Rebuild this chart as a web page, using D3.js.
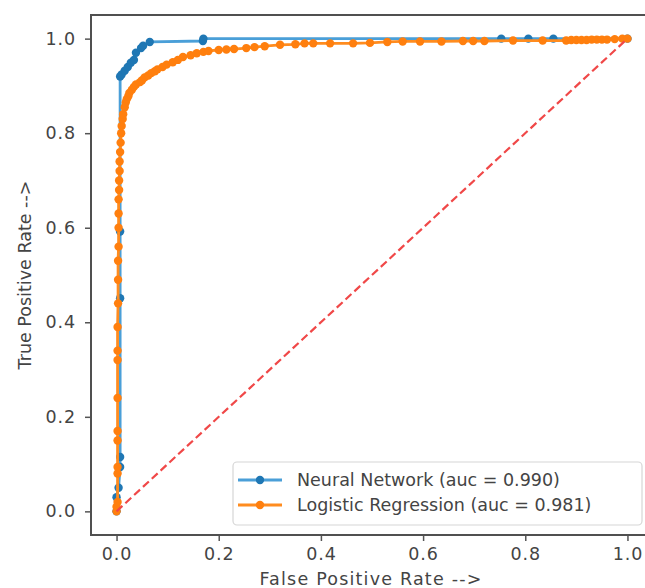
<!DOCTYPE html>
<html>
<head>
<meta charset="utf-8">
<script src="https://cdn.jsdelivr.net/npm/d3@7"></script>
<style>
  body { margin: 0; background: #fff; overflow: hidden; }
  svg { display: block; }
</style>
</head>
<body>
<svg id="chart" width="645" height="588"></svg>
<script>
// ROC points
const nnFpr = [0, 0, 0.004, 0.007, 0.007, 0.007, 0.007, 0.007, 0.01, 0.016, 0.022, 0.028, 0.034, 0.038, 0.048, 0.052, 0.065, 0.169, 0.17, 0.753, 0.806, 0.855, 1.0];
const nnTpr = [0, 0.03, 0.05, 0.094, 0.115, 0.451, 0.592, 0.92, 0.924, 0.932, 0.94, 0.949, 0.955, 0.97, 0.98, 0.985, 0.993, 0.995, 1.0, 1.0, 1.0, 1.0, 1.0];

const lrFpr = [0, 0, 0.002, 0.002, 0.002, 0.002, 0.002, 0.002, 0.002, 0.002, 0.002, 0.003, 0.003, 0.003, 0.004, 0.004, 0.004, 0.004, 0.005, 0.005, 0.006, 0.006, 0.007, 0.008, 0.009, 0.01, 0.012, 0.013, 0.016, 0.018, 0.02, 0.023, 0.025, 0.03, 0.034, 0.038, 0.046, 0.05, 0.055, 0.062, 0.068, 0.075, 0.08, 0.09, 0.098, 0.11, 0.12, 0.13, 0.145, 0.157, 0.17, 0.18, 0.2, 0.215, 0.23, 0.254, 0.27, 0.29, 0.32, 0.35, 0.368, 0.385, 0.418, 0.463, 0.496, 0.53, 0.56, 0.594, 0.636, 0.678, 0.698, 0.72, 0.776, 0.834, 0.88, 0.89, 0.9, 0.91, 0.92, 0.93, 0.94, 0.95, 0.96, 0.975, 0.99, 1.0];
const lrTpr = [0, 0.01, 0.02, 0.08, 0.094, 0.15, 0.17, 0.24, 0.32, 0.34, 0.39, 0.44, 0.49, 0.53, 0.56, 0.6, 0.63, 0.66, 0.68, 0.7, 0.72, 0.74, 0.76, 0.78, 0.8, 0.815, 0.83, 0.84, 0.855, 0.865, 0.872, 0.878, 0.885, 0.892, 0.898, 0.903, 0.908, 0.912, 0.918, 0.922, 0.927, 0.931, 0.935, 0.94, 0.945, 0.95, 0.955, 0.961, 0.965, 0.969, 0.972, 0.974, 0.976, 0.977, 0.978, 0.98, 0.982, 0.984, 0.987, 0.988, 0.99, 0.99, 0.99, 0.99, 0.991, 0.993, 0.994, 0.994, 0.994, 0.995, 0.995, 0.995, 0.996, 0.996, 0.996, 0.997, 0.997, 0.997, 0.997, 0.998, 0.998, 0.998, 0.998, 0.999, 1.0, 1.0];

const ticks = [0, 0.2, 0.4, 0.6, 0.8, 1.0];
const series = [
  { name: "Neural Network (auc = 0.990)", fpr: nnFpr, tpr: nnTpr, color: "#1f77b4", lineColor: "#4a9fd8" },
  { name: "Logistic Regression (auc = 0.981)", fpr: lrFpr, tpr: lrTpr, color: "#ff7f0e", lineColor: "#ff8c1f" }
];

const font = "DejaVu Sans, sans-serif";
const textColor = "#444";
const fontSize = "17.5px";
const svg = d3.select("#chart");

const margin = { top: 15, bottom: 535, left: 91, right: 653 };
const x = d3.scaleLinear().domain([-0.05, 1.05]).range([margin.left, margin.right]);
const y = d3.scaleLinear().domain([-0.05, 1.05]).range([margin.bottom, margin.top]);

// x axis
const gx = svg.append("g")
  .attr("transform", `translate(0,${margin.bottom})`)
  .call(d3.axisBottom(x).tickValues(ticks).tickFormat(d3.format(".1f")).tickSize(6).tickPadding(7));
gx.select(".domain").remove();
gx.selectAll("line").attr("stroke", "#555").attr("stroke-width", 1.5);
gx.selectAll("text").attr("font-size", fontSize).attr("letter-spacing", "0.9px")
  .attr("font-family", font).attr("fill", textColor);

// y axis
const gy = svg.append("g")
  .attr("transform", `translate(${margin.left},0)`)
  .call(d3.axisLeft(y).tickValues(ticks).tickFormat(d3.format(".1f")).tickSize(6).tickPadding(9));
gy.select(".domain").remove();
gy.selectAll("line").attr("stroke", "#555").attr("stroke-width", 1.5);
gy.selectAll("text").attr("font-size", fontSize).attr("letter-spacing", "0.9px")
  .attr("font-family", font).attr("fill", textColor);

// spines
svg.append("rect")
  .attr("x", margin.left)
  .attr("y", margin.top)
  .attr("width", margin.right - margin.left)
  .attr("height", margin.bottom - margin.top)
  .attr("fill", "none")
  .attr("stroke", "#505050")
  .attr("stroke-width", 2);

const line = d3.line().x(d => x(d[0])).y(d => y(d[1]));

series.forEach(s => {
  const pts = s.fpr.map((f, i) => [f, s.tpr[i]]);
  const g = svg.append("g");
  g.append("path")
    .datum(pts)
    .attr("fill", "none")
    .attr("stroke", s.lineColor)
    .attr("stroke-width", 2.8)
    .attr("d", line);
  g.selectAll("circle")
    .data(pts)
    .join("circle")
    .attr("cx", d => x(d[0]))
    .attr("cy", d => y(d[1]))
    .attr("r", 4.2)
    .attr("fill", s.color);
});

// chance line
svg.append("path")
  .datum([[0, 0], [1, 1]])
  .attr("fill", "none")
  .attr("stroke", "#f04848")
  .attr("stroke-width", 2.2)
  .attr("stroke-dasharray", "8,4")
  .attr("d", line);

// axis labels
svg.append("text")
  .attr("x", 371)
  .attr("y", 585)
  .attr("text-anchor", "middle")
  .attr("font-size", fontSize)
  .attr("letter-spacing", "1.2px")
  .attr("font-family", font)
  .attr("fill", textColor)
  .text("False Positive Rate -->");

svg.append("text")
  .attr("transform", `translate(31,${(margin.top + margin.bottom) / 2}) rotate(-90)`)
  .attr("text-anchor", "middle")
  .attr("font-size", fontSize)
  .attr("font-family", font)
  .attr("fill", textColor)
  .text("True Positive Rate -->");

// legend
const legend = svg.append("g");
legend.append("rect")
  .attr("x", 233)
  .attr("y", 462)
  .attr("width", 409)
  .attr("height", 63)
  .attr("rx", 4)
  .attr("fill", "#fff")
  .attr("fill-opacity", 0.8)
  .attr("stroke", "#d6d6d6")
  .attr("stroke-width", 1.2);

series.forEach((s, i) => {
  const ly = 480 + i * 25;
  legend.append("line")
    .attr("x1", 238).attr("x2", 282)
    .attr("y1", ly).attr("y2", ly)
    .attr("stroke", s.lineColor)
    .attr("stroke-width", 2.8);
  legend.append("circle")
    .attr("cx", 260).attr("cy", ly)
    .attr("r", 4.2)
    .attr("fill", s.color);
  legend.append("text")
    .attr("x", 297)
    .attr("y", ly)
    .attr("dy", "0.35em")
    .attr("font-size", fontSize)
    .attr("font-family", font)
    .attr("fill", textColor)
    .text(s.name);
});
</script>
</body>
</html>
